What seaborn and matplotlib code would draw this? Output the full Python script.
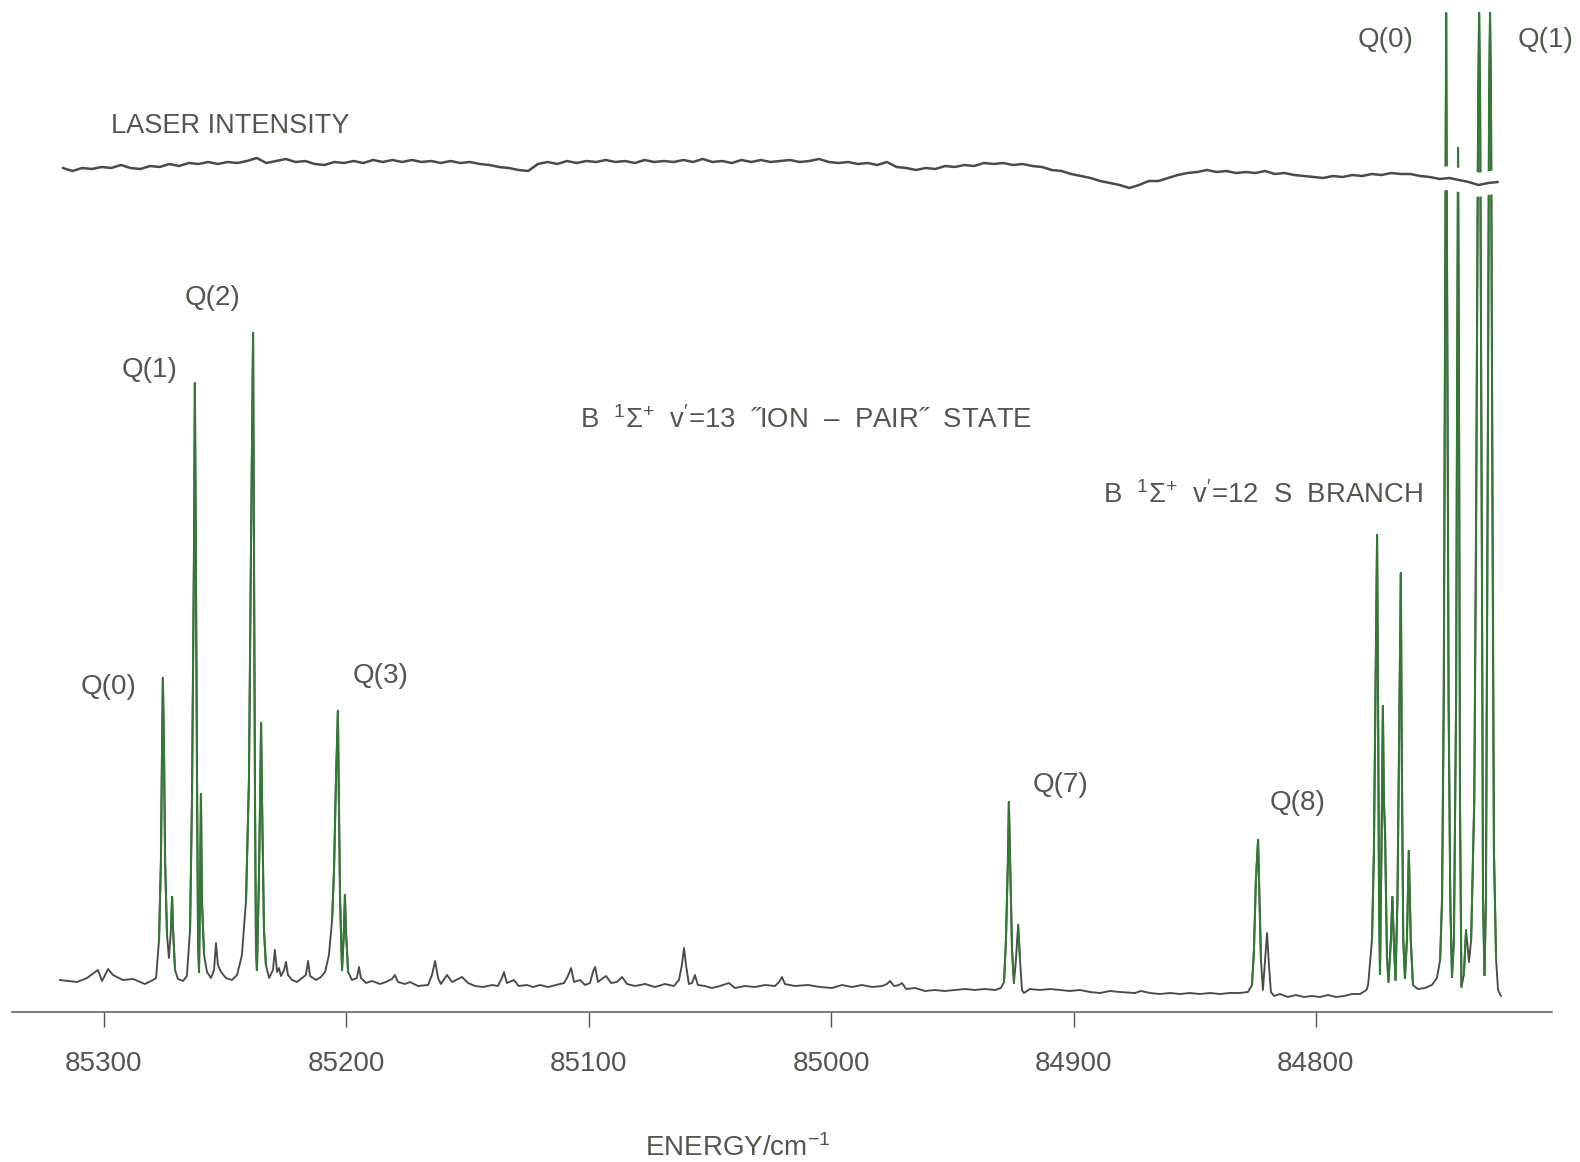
import numpy as np
import pandas as pd
import matplotlib
matplotlib.use("Agg")
import matplotlib.pyplot as plt
import matplotlib.patheffects as pe
from matplotlib.collections import LineCollection
import seaborn as sns

# ---------------------------------------------------------------------------
# REMPI spectrum of HCl: energy (cm^-1) and signal (arb. units)
# ---------------------------------------------------------------------------
energy = [
    85318.2, 85311.1, 85307.0, 85302.5, 85300.8, 85298.3, 85296.3, 85292.2, 85288.0, 85283.1, 85279.8,
    85278.5, 85277.3, 85276.5, 85276.1, 85275.7, 85275.2, 85274.8, 85274.0, 85273.2, 85272.4, 85271.9,
    85271.5, 85270.7, 85269.5, 85267.4, 85265.8,
    85264.5, 85263.7, 85262.9, 85262.5, 85262.1, 85261.6, 85261.2, 85260.8, 85260.4, 85260.0, 85259.6,
    85258.7, 85257.5, 85255.9, 85254.6, 85253.8, 85253.0, 85251.7, 85249.7, 85247.2, 85245.1,
    85243.1, 85241.4, 85240.2, 85239.4, 85238.5, 85238.1, 85237.7, 85237.3, 85236.9, 85236.1, 85235.6,
    85235.2, 85234.8, 85234.0, 85233.2, 85231.9,
    85230.3, 85229.5, 85228.6, 85227.8, 85227.0, 85225.7, 85224.9, 85224.1, 85222.4, 85220.4, 85218.3,
    85216.7, 85215.8, 85215.0, 85212.5, 85210.5, 85208.8,
    85207.2, 85205.9, 85205.1, 85204.3, 85203.5, 85203.1, 85202.6, 85201.8, 85201.0, 85200.6, 85200.2,
    85199.3, 85197.7, 85195.7, 85194.8, 85194.0, 85191.9, 85189.4, 85186.1, 85183.7, 85181.2, 85180.0,
    85178.7, 85175.8,
    85173.8, 85170.5, 85166.3, 85164.7, 85163.4, 85162.2, 85161.0, 85158.5, 85156.4, 85154.0, 85152.3,
    85149.8, 85146.9, 85143.6, 85139.9, 85137.5, 85135.8, 85135.0, 85133.8, 85130.9, 85128.9, 85125.5,
    85123.0, 85120.1, 85116.8, 85113.5, 85110.2, 85108.6, 85107.3, 85106.1, 85103.6, 85101.6, 85099.5,
    85098.3, 85097.4, 85096.2, 85094.1, 85092.9, 85090.8, 85088.4, 85086.3, 85084.2, 85080.9, 85076.8,
    85072.7, 85068.6, 85064.9, 85062.8, 85061.6, 85060.7, 85059.9, 85058.7, 85057.4, 85056.2, 85055.0,
    85052.1, 85049.2, 85045.9, 85042.2, 85039.7, 85035.6, 85031.4, 85027.3, 85023.2, 85021.5, 85020.3,
    85019.1, 85015.0, 85009.6, 85004.6, 84999.7, 84995.5, 84991.4, 84987.3, 84983.2, 84979.0, 84977.0,
    84975.7, 84974.1, 84972.0, 84970.8, 84969.1, 84965.4, 84961.3, 84957.2, 84953.1, 84948.9, 84944.8,
    84940.7, 84936.6, 84932.4, 84930.0,
    84928.7, 84927.9, 84927.1, 84926.7, 84926.2, 84925.4, 84924.6, 84923.8, 84922.9, 84922.1, 84921.3,
    84920.5, 84918.0, 84913.9, 84909.7, 84905.6, 84901.5, 84897.4, 84893.2, 84889.1, 84885.0, 84880.9,
    84874.7, 84872.2, 84868.5, 84864.4, 84860.2, 84856.1, 84852.0, 84847.9, 84843.7, 84839.6, 84835.5,
    84831.4, 84828.1,
    84826.4, 84825.6, 84824.8, 84823.9, 84823.5, 84822.7, 84821.9, 84821.0, 84820.2, 84819.4, 84818.6,
    84817.3, 84814.9, 84811.6, 84808.3, 84805.0, 84801.7, 84798.3, 84795.0, 84791.7, 84788.4, 84785.1,
    84781.8, 84779.2,
    84778.5, 84776.9, 84776.1, 84775.5, 84774.8, 84774.4, 84774.0, 84773.6, 84773.0, 84772.4, 84772.0,
    84771.5, 84771.1, 84770.7, 84770.1, 84769.1, 84768.5, 84767.9, 84767.2, 84766.4, 84765.8, 84765.0,
    84764.6, 84764.0, 84763.3, 84762.5, 84761.7, 84760.9, 84760.0, 84758.0, 84755.1, 84752.2, 84750.1,
    84748.8, 84748.0, 84747.3, 84746.7, 84746.3, 84745.9, 84745.3, 84744.6, 84743.9, 84743.1, 84742.2,
    84741.8, 84741.4, 84741.0, 84740.6, 84740.0, 84739.0, 84738.1, 84737.5, 84736.9, 84736.0, 84734.7,
    84733.9, 84733.1, 84732.7, 84732.3, 84731.5, 84731.1, 84730.5, 84729.9, 84729.2, 84728.6, 84728.2,
    84727.8, 84727.2, 84726.6, 84725.7, 84724.9, 84723.7,
]
signal = [
    32, 30, 34, 42, 31, 43, 37, 32, 33, 28, 32,
    34, 72, 152, 252, 334, 252, 152, 77, 54, 82, 115,
    82, 42, 33, 31, 36,
    82, 212, 452, 629, 452, 212, 72, 40, 112, 218, 112,
    57, 40, 34, 42, 69, 47, 40, 34, 32, 37,
    57, 112, 232, 452, 679, 452, 212, 62, 42, 132, 212,
    289, 212, 82, 47, 34,
    42, 62, 40, 44, 36, 42, 50, 37, 32, 30, 34,
    37, 51, 36, 32, 35, 40,
    57, 92, 142, 232, 301, 212, 112, 42, 82, 117, 82,
    40, 32, 34, 45, 34, 29, 31, 28, 30, 33, 37,
    30, 28,
    30, 26, 27, 37, 51, 34, 28, 37, 30, 33, 35,
    29, 26, 25, 27, 26, 34, 40, 29, 32, 26, 27,
    25, 27, 25, 27, 29, 36, 44, 30, 32, 27, 29,
    40, 45, 30, 34, 36, 29, 30, 35, 28, 26, 28,
    25, 28, 26, 32, 47, 64, 47, 28, 29, 37, 27,
    26, 24, 26, 29, 24, 26, 25, 27, 26, 30, 35,
    28, 26, 27, 25, 24, 27, 25, 27, 25, 26, 28,
    31, 26, 27, 29, 23, 24, 21, 22, 21, 22, 23,
    22, 23, 22, 24,
    30, 72, 152, 210, 152, 62, 29, 52, 87, 52, 22,
    19, 23, 22, 23, 22, 21, 22, 20, 19, 21, 20,
    19, 21, 19, 18, 19, 18, 19, 18, 19, 18, 19,
    19, 20,
    27, 62, 132, 172, 132, 52, 22, 52, 79, 47, 20,
    16, 18, 15, 17, 15, 16, 15, 17, 15, 16, 18,
    18, 22,
    27, 72, 162, 312, 477, 312, 112, 38, 162, 306, 212,
    179, 112, 52, 30, 72, 115, 72, 32, 112, 252, 439,
    252, 72, 34, 72, 161, 72, 27, 23, 24, 27, 34,
    52, 112, 312, 712, 999, 712, 312, 112, 35, 72, 312,
    612, 864, 612, 212, 25, 37, 82, 67, 50, 72, 212,
    512, 912, 999, 912, 412, 112, 37, 112, 512, 912, 999,
    912, 512, 162, 52, 22, 16,
]

# Laser intensity monitor, recorded in the same scan (arb. units)
laser_energy = [
    85317, 85313, 85309, 85305, 85301, 85297, 85293, 85289, 85285, 85281,
    85277, 85273, 85269, 85265, 85261, 85257, 85253, 85249, 85245, 85241,
    85237, 85233, 85229, 85225, 85221, 85217, 85213, 85209, 85205, 85201,
    85197, 85193, 85189, 85185, 85181, 85177, 85173, 85169, 85165, 85161,
    85157, 85153, 85149, 85145, 85141, 85137, 85133, 85129, 85125, 85121,
    85117, 85113, 85109, 85105, 85101, 85097, 85093, 85089, 85085, 85081,
    85077, 85073, 85069, 85065, 85061, 85057, 85053, 85049, 85045, 85041,
    85037, 85033, 85029, 85025, 85021, 85017, 85013, 85009, 85005, 85001,
    84997, 84993, 84989, 84985, 84981, 84977, 84973, 84969, 84965, 84961,
    84957, 84953, 84949, 84945, 84941, 84937, 84933, 84929, 84925, 84921,
    84917, 84913, 84909, 84905, 84901, 84897, 84893, 84889, 84885, 84881,
    84877, 84873, 84869, 84865, 84861, 84857, 84853, 84849, 84845, 84841,
    84837, 84833, 84829, 84825, 84821, 84817, 84813, 84809, 84805, 84801,
    84797, 84793, 84789, 84785, 84781, 84777, 84773, 84769, 84765, 84761,
    84757, 84753, 84749, 84745, 84741, 84737, 84733, 84729, 84725,
]
laser_level = [
    4, 1, 4, 3, 5, 4, 7, 4, 3, 6,
    5, 8, 6, 9, 8, 10, 8, 10, 9, 11,
    14, 9, 11, 13, 10, 11, 8, 7, 10, 9,
    11, 9, 12, 10, 12, 10, 12, 10, 11, 9,
    11, 9, 10, 8, 7, 5, 4, 2, 1, 8,
    10, 8, 11, 9, 11, 10, 12, 10, 11, 9,
    12, 10, 11, 10, 12, 10, 13, 10, 11, 9,
    12, 10, 12, 10, 11, 12, 10, 11, 13, 10,
    9, 10, 8, 9, 7, 10, 5, 4, 2, 4,
    3, 6, 5, 7, 6, 9, 8, 9, 7, 8,
    6, 5, 2, 1, -2, -4, -6, -9, -11, -13,
    -16, -13, -9, -9, -6, -3, -1, 0, 2, 0,
    1, -1, 0, -1, 1, -2, -1, -3, -4, -5,
    -6, -4, -5, -3, -4, -2, -3, -1, -2, -2,
    -4, -5, -7, -6, -8, -10, -13, -11, -10,
]

tick_values = [85300, 85200, 85100, 85000, 84900, 84800]
tick_labels = ["85300", "85200", "85100", "85000", "84900", "84800"]

# ---------------------------------------------------------------------------
# Styling
# ---------------------------------------------------------------------------
sns.set_theme(style="white")
plt.rcParams["font.family"] = ["Liberation Sans", "DejaVu Sans"]
plt.rcParams["mathtext.fontset"] = "custom"
plt.rcParams["mathtext.rm"] = "Liberation Sans"
plt.rcParams["mathtext.it"] = "Liberation Sans:italic"
plt.rcParams["mathtext.bf"] = "Liberation Sans:bold"
plt.rcParams["mathtext.default"] = "regular"

TRACE = "#484c46"
GREEN = "#327a34"
INK = "#4d5a4a"

fig = plt.figure(figsize=(15.8, 11.62), dpi=100)
fig.patch.set_facecolor("white")
ax = fig.add_axes([12 / 1580, 150 / 1162, 1540 / 1580, 1012 / 1162])
ax.set_facecolor("white")

spec = pd.DataFrame({"energy": energy, "signal": signal})
sns.lineplot(data=spec, x="energy", y="signal", sort=False, estimator=None,
             color=TRACE, linewidth=1.35, ax=ax, zorder=2)

# steep flanks of the strong lines, drawn in green
e = np.asarray(energy, dtype=float)
s = np.asarray(signal, dtype=float)
steep = np.abs(np.diff(s)) / np.abs(np.diff(e)) > 40
segs = np.stack([np.column_stack([e[:-1], s[:-1]]),
                 np.column_stack([e[1:], s[1:]])], axis=1)[steep]
ax.add_collection(LineCollection(segs, colors=GREEN, linewidths=1.5,
                                 zorder=3, capstyle="round"))

# laser monitor trace, offset above the spectrum; white halo breaks the lines it crosses
LASER_OFFSET = 840
laser = pd.DataFrame({"energy": laser_energy,
                      "level": np.asarray(laser_level) + LASER_OFFSET})
sns.lineplot(data=laser, x="energy", y="level", sort=False, estimator=None,
             color=TRACE, linewidth=1.8, ax=ax, zorder=5)
ax.lines[-1].set_path_effects([pe.Stroke(linewidth=17, foreground="white"),
                               pe.Normal()])

ax.set_xlim(85337.95, 84702.64)
ax.set_ylim(0, 1012)

for side in ("left", "top", "right"):
    ax.spines[side].set_visible(False)
ax.spines["bottom"].set_color("#555a52")
ax.spines["bottom"].set_linewidth(1.1)
ax.set_yticks([])
ax.set_xticks(tick_values)
ax.set_xticklabels(tick_labels)
ax.tick_params(axis="x", direction="out", length=11, width=1.0, pad=17,
               labelsize=20, colors=INK, bottom=True)
ax.set_ylabel("")
ax.set_xlabel("ENERGY/cm$^{-1}$", fontsize=20, color=INK)
ax.xaxis.set_label_coords(0.471, -0.121)

# branch labels
txt = dict(fontsize=20, color=INK, ha="center", va="center", zorder=6)
ax.text(85298.3, 325, "Q(0)", **txt)
ax.text(85281.4, 642, "Q(1)", **txt)
ax.text(85255.4, 714, "Q(2)", **txt)
ax.text(85186.1, 336, "Q(3)", **txt)
ax.text(84905.2, 227, "Q(7)", **txt)
ax.text(84807.4, 209, "Q(8)", **txt)
ax.text(84771.5, 972, "Q(0)", **txt)
ax.text(84705.5, 972, "Q(1)", **txt)

ax.text(85297.1, 886, "LASER INTENSITY", fontsize=19.5, color=INK,
        ha="left", va="center")
ax.text(85103.6, 592, "B  $^{1}\\Sigma^{+}$  v$^{\\prime}$=13  \u02ddION  \u2013  PAIR\u02dd  STATE",
        fontsize=19.8, color=INK, ha="left", va="center")
ax.text(84887.9, 517, "B  $^{1}\\Sigma^{+}$  v$^{\\prime}$=12  S  BRANCH",
        fontsize=19.8, color=INK, ha="left", va="center")

fig.savefig("out.png", dpi=100, facecolor="white")
